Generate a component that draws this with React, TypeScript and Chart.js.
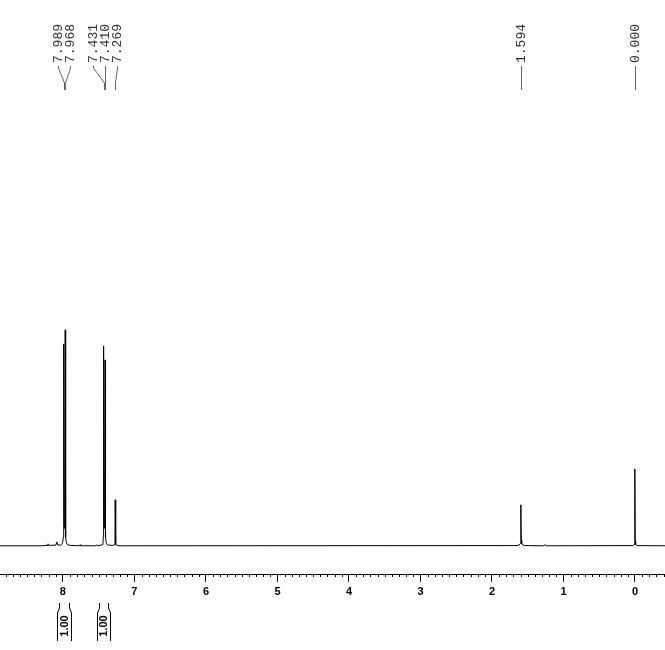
import React, { useEffect, useRef } from "react";
import { Chart, registerables } from "chart.js";

Chart.register(...registerables);

// ---- Data ----
const spectrumPpm = [
  8.88, 8.3, 8.22, 8.21, 8.2, 8.1, 8.085, 8.075, 8.03,
  8.02, 8.005, 7.995, 7.989, 7.983, 7.978, 7.973, 7.968, 7.962, 7.952, 7.935, 7.9,
  7.77, 7.76, 7.75, 7.66, 7.65, 7.64, 7.54, 7.53, 7.52,
  7.47, 7.45, 7.44, 7.436, 7.431, 7.425, 7.42, 7.415, 7.41, 7.404, 7.395, 7.38, 7.36,
  7.3, 7.28, 7.272, 7.269, 7.266, 7.258, 7.24, 7.2,
  1.65, 1.62, 1.605, 1.598, 1.594, 1.59, 1.583, 1.57, 1.54,
  1.28, 1.26, 1.24,
  0.03, 0.01, 0.004, 0.0, -0.004, -0.01, -0.03, -0.42,
];
const spectrumIntensity = [
  0, 0, 0.2, 0.9, 0.2, 0.3, 1.8, 0.4, 0.3,
  0.5, 1.5, 4, 93.5, 10, 8, 10, 100, 4, 1.5, 0.5, 0.2,
  0, 0.5, 0, 0, 0.4, 0, 0, 0.5, 0,
  0.3, 0.6, 1.5, 4, 92.6, 10, 8, 10, 86.1, 4, 1.5, 0.6, 0.3,
  0.2, 0.5, 1.5, 21.3, 1.5, 0.5, 0.2, 0,
  0.1, 0.4, 1, 2.5, 19.0, 2.5, 1, 0.4, 0.1,
  0, 0.5, 0,
  0.1, 0.6, 2, 35.6, 2, 0.6, 0.1, 0,
];

const peakShifts = [7.989, 7.968, 7.431, 7.41, 7.269, 1.594, 0.0];
const peakLabels = ["7.989", "7.968", "7.431", "7.410", "7.269", "1.594", "0.000"];

const integralStarts = [8.056, 7.492];
const integralEnds = [7.916, 7.366];
const integralLabels = ["1.00", "1.00"];

const majorTicks = [0, 1, 2, 3, 4, 5, 6, 7, 8];

const ppmMin = -0.42;
const ppmMax = 8.88;

const annotationPlugin = {
  id: "nmrAnnotations",
  afterDraw(chart: any) {
    const { ctx, chartArea } = chart;
    const x = chart.scales.x;
    ctx.save();

    // minor ticks every 0.1 ppm
    ctx.fillStyle = "#000";
    const lo = Math.ceil(x.min * 10);
    const hi = Math.floor(x.max * 10);
    const axisY = Math.round(chartArea.bottom);
    for (let i = lo; i <= hi; i++) {
      if (i % 10 === 0) continue;
      const px = Math.round(x.getPixelForValue(i / 10));
      ctx.fillRect(px, axisY, 1, 2);
    }

    // peak labels with connectors
    const items = peakShifts
      .map((v, i) => ({ px: x.getPixelForValue(v), label: peakLabels[i], lx: 0 }))
      .sort((a, b) => a.px - b.px);
    const spacing = 12;
    const groups: any[][] = [];
    items.forEach((it) => {
      const g = groups[groups.length - 1];
      if (g && it.px - g[g.length - 1].px < 13) g.push(it);
      else groups.push([it]);
    });
    groups.forEach((g) => {
      const n = g.length;
      const med = n % 2 === 1 ? g[(n - 1) / 2].px : (g[n / 2 - 1].px + g[n / 2].px) / 2;
      g.forEach((it, k) => {
        it.lx = med + (k - (n - 1) / 2) * spacing;
      });
    });

    ctx.font = '13px "Liberation Mono", "DejaVu Sans Mono", monospace';
    ctx.fillStyle = "#333";
    ctx.textAlign = "left";
    ctx.textBaseline = "middle";
    items.forEach((it) => {
      ctx.save();
      ctx.translate(Math.round(it.lx) + 0.5, 63);
      ctx.rotate(-Math.PI / 2);
      ctx.fillText(it.label, 0, 0);
      ctx.restore();
    });
    ctx.strokeStyle = "#666";
    ctx.lineWidth = 1;
    items.forEach((it) => {
      const lx = Math.round(it.lx) + 0.5;
      const px = Math.round(it.px) + 0.5;
      ctx.beginPath();
      ctx.moveTo(lx, 66);
      ctx.lineTo(lx, 68);
      ctx.lineTo(px, 83);
      ctx.lineTo(px, 90);
      ctx.stroke();
    });

    // integrals
    ctx.strokeStyle = "#000";
    ctx.fillStyle = "#000";
    ctx.font = 'bold 11px "Liberation Sans", Arial, sans-serif';
    ctx.textAlign = "center";
    ctx.textBaseline = "middle";
    integralStarts.forEach((s, i) => {
      const x1 = Math.round(x.getPixelForValue(s)) + 0.5;
      const x2 = Math.round(x.getPixelForValue(integralEnds[i])) + 0.5;
      ctx.beginPath();
      ctx.moveTo(x1, 603);
      ctx.lineTo(x1, 608);
      ctx.lineTo(x1 - 2, 613);
      ctx.lineTo(x1 - 2, 641);
      ctx.moveTo(x2, 603);
      ctx.lineTo(x2, 608);
      ctx.lineTo(x2 + 2, 613);
      ctx.lineTo(x2 + 2, 641);
      ctx.stroke();
      ctx.save();
      ctx.translate((x1 + x2) / 2, 626);
      ctx.rotate(-Math.PI / 2);
      ctx.fillText(integralLabels[i], 0, 0);
      ctx.restore();
    });

    ctx.restore();
  },
};

export default function App() {
  const canvasRef = useRef<HTMLCanvasElement | null>(null);

  useEffect(() => {
    document.body.style.margin = "0";
    const canvas = canvasRef.current;
    if (!canvas) return;
    const data = spectrumPpm.map((p, i) => ({ x: p, y: spectrumIntensity[i] }));
    const chart = new Chart(canvas, {
      type: "line",
      data: {
        datasets: [
          {
            data,
            borderColor: "#000",
            borderWidth: 1,
            pointRadius: 0,
            tension: 0,
            fill: false,
          },
        ],
      },
      options: {
        animation: false,
        responsive: true,
        maintainAspectRatio: false,
        parsing: false as any,
        layout: { padding: { top: 0, left: 0, right: 0, bottom: 47 } },
        plugins: { legend: { display: false }, tooltip: { enabled: false } },
        scales: {
          x: {
            type: "linear",
            reverse: true,
            min: ppmMin,
            max: ppmMax,
            afterBuildTicks: (scale: any) => {
              scale.ticks = majorTicks.map((v) => ({ value: v }));
            },
            border: { display: true, color: "#000", width: 1 },
            grid: {
              drawOnChartArea: false,
              drawTicks: true,
              tickLength: 7,
              tickColor: "#000",
              tickWidth: 1,
            },
            ticks: {
              autoSkip: false,
              maxRotation: 0,
              padding: 4,
              color: "#000",
              font: { family: '"Liberation Sans", Arial, sans-serif', size: 11, weight: "bold" },
              callback: (v: any) => String(v),
            },
          },
          y: {
            type: "linear",
            display: false,
            min: -13.43,
            max: 252.8,
          },
        },
      },
      plugins: [annotationPlugin],
    });
    return () => chart.destroy();
  }, []);

  return (
    <div style={{ position: "fixed", left: 0, top: 0, width: 665, height: 650, background: "#fff" }}>
      <canvas ref={canvasRef} />
    </div>
  );
}
